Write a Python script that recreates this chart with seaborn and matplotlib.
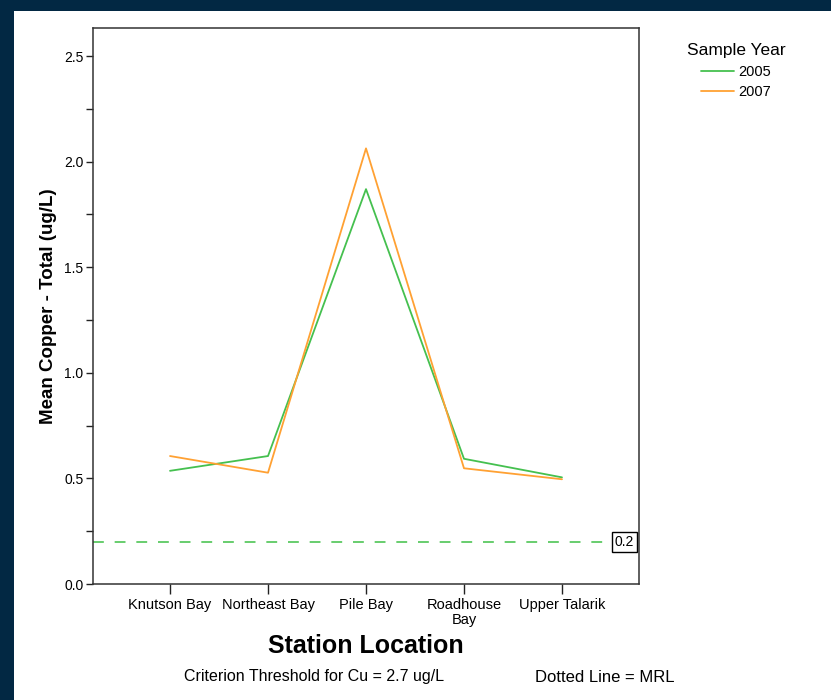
import matplotlib
matplotlib.use("Agg")
import matplotlib.pyplot as plt
import matplotlib.patches as mpatches
from matplotlib.ticker import MultipleLocator
import pandas as pd
import seaborn as sns

# Mean total copper by station and sampling year
stations = ["Knutson Bay", "Northeast Bay", "Pile Bay", "Roadhouse\nBay", "Upper Talarik"]
cu_2005 = [0.536, 0.606, 1.870, 0.593, 0.505]
cu_2007 = [0.606, 0.527, 2.063, 0.548, 0.496]
years = ["2005", "2007"]
mrl = 0.2

df = pd.DataFrame({
    "Station Location": stations * 2,
    "Mean Copper": cu_2005 + cu_2007,
    "Sample Year": [years[0]] * len(stations) + [years[1]] * len(stations),
})

sns.set_theme(style="white")
plt.rcParams["font.family"] = ["Liberation Sans", "DejaVu Sans"]
plt.rcParams["text.color"] = "black"
plt.rcParams["axes.labelcolor"] = "black"
plt.rcParams["xtick.color"] = "black"
plt.rcParams["ytick.color"] = "black"

W, H = 831, 700
fig = plt.figure(figsize=(W / 100, H / 100), dpi=100)
fig.patch.set_facecolor("#022843")
fig.patches.append(mpatches.Rectangle((14 / W, 0), 1 - 14 / W, 1 - 11 / H,
                                      transform=fig.transFigure,
                                      facecolor="white", edgecolor="none", zorder=-10))

ax = fig.add_axes([93 / W, 1 - 584 / H, (639 - 93) / W, (584 - 28) / H])
palette = {"2005": "#45c04f", "2007": "#ffa133"}
sns.lineplot(data=df, x="Station Location", y="Mean Copper", hue="Sample Year",
             palette=palette, sort=False, linewidth=1.3, ax=ax, legend=False)

ax.set_xlim(-0.786, 4.786)
ax.set_ylim(0, 2.633)
ax.yaxis.set_major_locator(MultipleLocator(0.5))
ax.yaxis.set_minor_locator(MultipleLocator(0.25))
ax.yaxis.set_major_formatter(matplotlib.ticker.FormatStrFormatter("%.1f"))
ax.tick_params(axis="y", which="both", direction="out", length=5, width=1,
               color="#222222", labelcolor="black", labelsize=10, left=True, pad=2)
ax.tick_params(axis="x", direction="out", length=7, width=1, color="#222222",
               labelcolor="black", labelsize=10.5, bottom=True, pad=3)
for lbl in ax.get_xticklabels():
    lbl.set_linespacing(1.1)
for s in ax.spines.values():
    s.set_color("#333333")
    s.set_linewidth(1.1)

ax.set_xlabel("Station Location", fontsize=18, fontweight="bold", labelpad=5, color="black")
ax.set_ylabel("Mean Copper - Total (ug/L)", fontsize=13.5, fontweight="bold", labelpad=5,
              color="black")

# MRL reference line with value box
ax.axhline(mrl, xmin=0, xmax=0.949, color="#5cc962", linewidth=1.3, dashes=(6, 6))
ax.text(0.973, mrl, f"{mrl:.1f}", transform=ax.get_yaxis_transform(),
        ha="center", va="center", fontsize=10, color="black",
        bbox=dict(boxstyle="square,pad=0.22", facecolor="white", edgecolor="black", linewidth=1))

handles = [plt.Line2D([], [], color=palette[y], linewidth=1.3) for y in years]
leg = fig.legend(handles, years, title="Sample Year", loc="upper left",
                 bbox_to_anchor=(674 / W, 1 - 30 / H), frameon=False, fontsize=10.5,
                 title_fontsize=12.5, handlelength=2.2, labelspacing=0.45, handletextpad=0.35)
for t in leg.get_texts():
    t.set_color("black")
leg.get_title().set_color("black")

fig.text(314 / W, 1 - 677 / H, "Criterion Threshold for Cu = 2.7 ug/L",
         ha="center", va="center", fontsize=11.5, color="black")
fig.text(605 / W, 1 - 677 / H, "Dotted Line = MRL",
         ha="center", va="center", fontsize=12, color="black")

fig.savefig("out.png", dpi=100, facecolor=fig.get_facecolor())
